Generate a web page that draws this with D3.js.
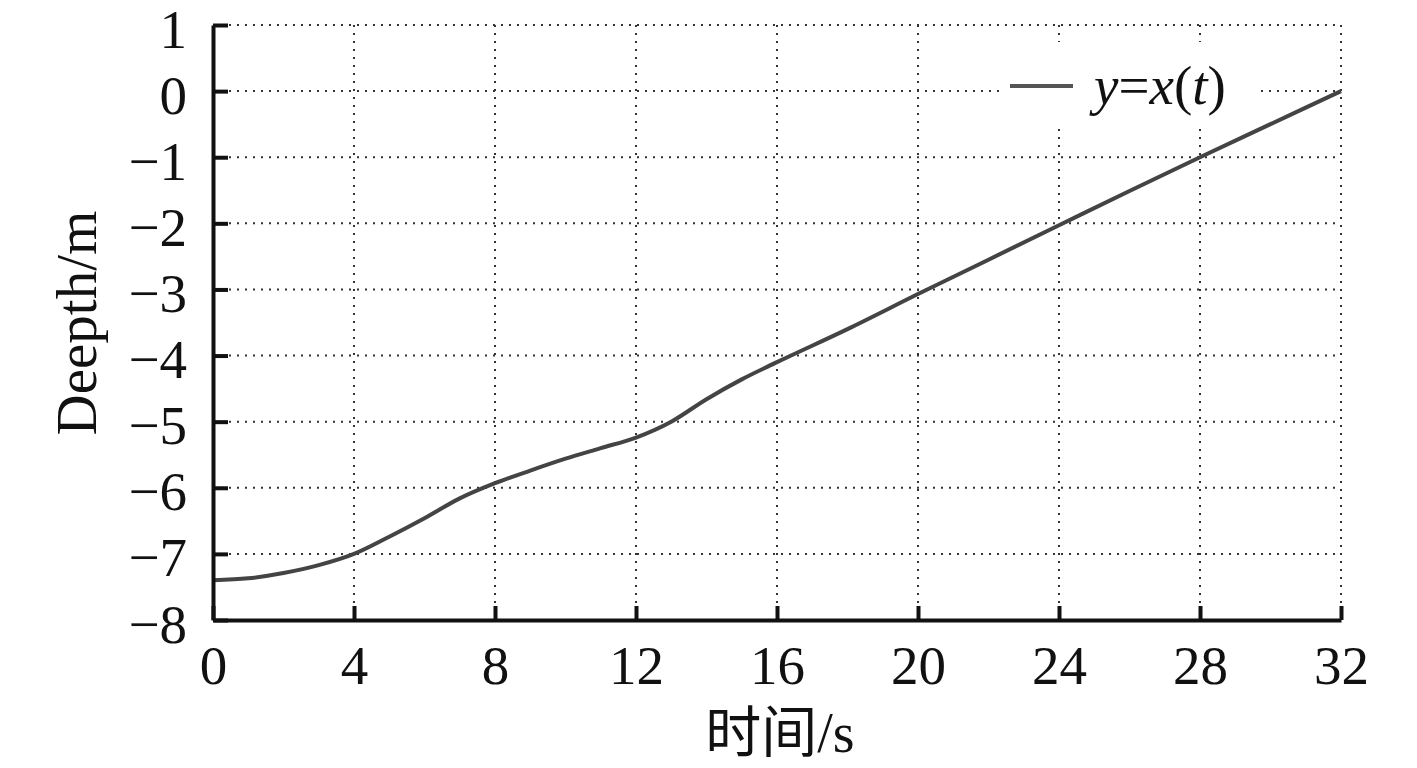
<!DOCTYPE html>
<html>
<head>
<meta charset="utf-8">
<script src="https://cdn.jsdelivr.net/npm/d3@7"></script>
<style>
  body { margin: 0; background: #fff; }
  svg text { font-family: "Liberation Serif", "Noto Sans CJK SC", serif; fill: #111; }
</style>
</head>
<body>
<div id="chart"></div>
<script>
let width = 1417;
let height = 768;

// data
const times  = [0, 1, 2, 3, 4, 5, 6, 7, 8, 9, 10, 11, 12, 13, 14, 15, 16, 18, 20, 22, 24, 26, 28, 30, 32];
const depths = [-7.40, -7.37, -7.29, -7.17, -7.0, -6.74, -6.46, -6.16, -5.93, -5.74, -5.56, -5.40, -5.24, -5.0, -4.66, -4.36, -4.10, -3.60, -3.07, -2.55, -2.03, -1.51, -1.0, -0.5, 0.0];
const xTicks = [0, 4, 8, 12, 16, 20, 24, 28, 32];
const yTicks = [1, 0, -1, -2, -3, -4, -5, -6, -7, -8];

let svg = d3.select("#chart").append("svg")
  .attr("width", width)
  .attr("height", height)

let x = d3.scaleLinear().domain([0, 32]).range([213, 1341]);
let y = d3.scaleLinear().domain([-8, 1]).range([620, 25]);

// dotted grid
let grid = svg.append("g")
  .attr("stroke", "#333")
  .attr("stroke-width", 2)
  .attr("stroke-dasharray", "2,6");

grid.selectAll(".gx")
  .data(xTicks.slice(1))
  .enter()
  .append("line")
  .attr("x1", d => x(d)).attr("x2", d => x(d))
  .attr("y1", y(1)).attr("y2", y(-8));

grid.selectAll(".gy")
  .data(yTicks.slice(0, -1))
  .enter()
  .append("line")
  .attr("x1", x(0)).attr("x2", x(32))
  .attr("y1", d => y(d)).attr("y2", d => y(d));

// legend box (covers grid)
svg.append("rect")
  .attr("x", 1000).attr("y", 42)
  .attr("width", 255).attr("height", 84)
  .attr("fill", "#fff");

svg.append("line")
  .attr("x1", 1010).attr("x2", 1073)
  .attr("y1", 86).attr("y2", 86)
  .attr("stroke", "#555")
  .attr("stroke-width", 4);

let leg = svg.append("text")
  .attr("x", 1094).attr("y", 104)
  .attr("font-size", 55);
leg.append("tspan").attr("font-style", "italic").text("y");
leg.append("tspan").text("=");
leg.append("tspan").attr("font-style", "italic").text("x");
leg.append("tspan").text("(");
leg.append("tspan").attr("font-style", "italic").text("t");
leg.append("tspan").text(")");

// curve
let line = d3.line()
  .x((d, i) => x(times[i]))
  .y(d => y(d))
  .curve(d3.curveMonotoneX);

svg.append("path")
  .datum(depths)
  .attr("d", line)
  .attr("fill", "none")
  .attr("stroke", "#444")
  .attr("stroke-width", 4);

// axes
let xAxis = d3.axisBottom(x)
  .tickValues(xTicks)
  .tickSizeInner(-14)
  .tickSizeOuter(0)
  .tickPadding(28);

let yAxis = d3.axisLeft(y)
  .tickValues(yTicks)
  .tickSizeInner(-15)
  .tickSizeOuter(0)
  .tickPadding(28)
  .tickFormat(d => d < 0 ? "\u2212" + Math.abs(d) : d);

let gx = svg.append("g")
  .attr("transform", "translate(0," + y(-8) + ")")
  .call(xAxis);

let gy = svg.append("g")
  .attr("transform", "translate(" + x(0) + ",0)")
  .call(yAxis);

[gx, gy].forEach(g => {
  g.select(".domain").attr("stroke", "#111").attr("stroke-width", 4);
  g.selectAll(".tick line").attr("stroke", "#111").attr("stroke-width", 4);
  g.selectAll(".tick text")
    .attr("font-family", "Liberation Serif")
    .attr("font-size", 55)
    .attr("fill", "#111");
});
gx.selectAll(".tick text").attr("dy", "0.71em").attr("y", 25);
gy.selectAll(".tick text").attr("x", -26).attr("dy", "0.4em");

// axis titles
svg.append("text")
  .attr("transform", "translate(96,323) rotate(-90)")
  .attr("text-anchor", "middle")
  .attr("font-size", 57)
  .text("Deepth/m");

svg.append("text")
  .attr("x", 780).attr("y", 752)
  .attr("text-anchor", "middle")
  .attr("font-size", 56)
  .text("时间/s");
</script>
</body>
</html>
